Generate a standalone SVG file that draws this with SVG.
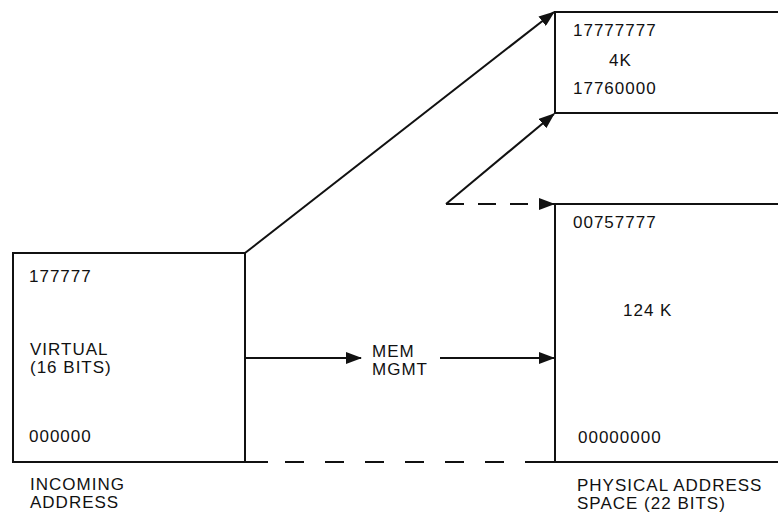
<svg xmlns="http://www.w3.org/2000/svg" width="778" height="516" viewBox="0 0 778 516">
<style>
.t{font-family:"Liberation Sans",Arial,sans-serif;font-size:17px;letter-spacing:1px;fill:#111}
.ln{stroke:#111;stroke-width:2;fill:none}
.dash{stroke:#111;stroke-width:2;fill:none;stroke-dasharray:19 21}
</style>
<defs>
<marker id="ah" markerUnits="userSpaceOnUse" markerWidth="16" markerHeight="12" refX="15" refY="6" orient="auto">
<path d="M0,0 L16,6 L0,12 Z" fill="#111"/>
</marker>
</defs>
<rect width="778" height="516" fill="#fff"/>
<g id="virtual">
<rect x="13" y="253" width="232" height="209" class="ln"/>
<text class="t" x="29" y="282">177777</text>
<text class="t" x="30" y="355">VIRTUAL</text>
<text class="t" x="30" y="373">(16 BITS)</text>
<text class="t" x="29" y="442">000000</text>
<text class="t" x="30" y="490">INCOMING</text>
<text class="t" x="30" y="508">ADDRESS</text>
</g>
<g id="upper4k">
<path d="M778,12 H555 V113 H778" class="ln"/>
<text class="t" x="573" y="36">17777777</text>
<text class="t" x="609" y="66">4K</text>
<text class="t" x="573" y="94">17760000</text>
</g>
<g id="lower124k">
<path d="M778,204 H555 V462 H778" class="ln"/>
<text class="t" x="573" y="228">00757777</text>
<text class="t" x="623" y="316">124 K</text>
<text class="t" x="578" y="443">00000000</text>
<text class="t" x="577" y="491">PHYSICAL ADDRESS</text>
<text class="t" x="577" y="509">SPACE (22 BITS)</text>
</g>
<g id="memmgmt">
<text class="t" x="372" y="357">MEM</text>
<text class="t" x="372" y="375">MGMT</text>
</g>
<g id="connectors">
<line x1="245" y1="253" x2="554" y2="12" class="ln" marker-end="url(#ah)"/>
<line x1="446" y1="204" x2="554" y2="114" class="ln" marker-end="url(#ah)"/>
<line x1="446" y1="204" x2="554" y2="204" class="ln" stroke-dasharray="18 14" marker-end="url(#ah)"/>
<line x1="245" y1="358" x2="361" y2="358" class="ln" marker-end="url(#ah)"/>
<line x1="440" y1="358" x2="554" y2="358" class="ln" marker-end="url(#ah)"/>
<line x1="245" y1="462" x2="268" y2="462" class="ln"/>
<line x1="285" y1="462" x2="535" y2="462" class="dash"/>
<line x1="535" y1="462" x2="555" y2="462" class="ln"/>
</g>
</svg>
